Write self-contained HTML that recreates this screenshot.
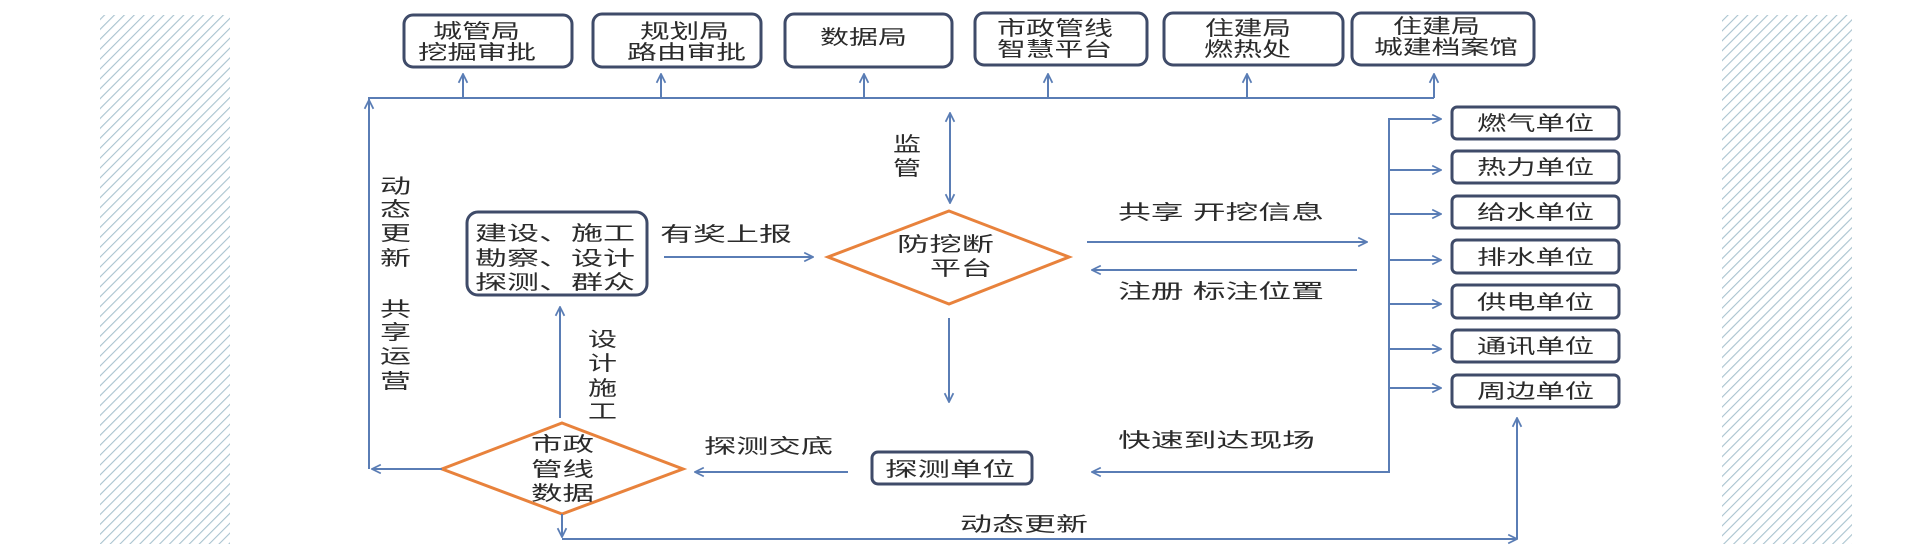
<!DOCTYPE html>
<html><head><meta charset="utf-8"><style>
html,body{margin:0;padding:0;background:#fff;}
svg{display:block;}
text{font-family:"Liberation Sans","Noto Sans CJK SC",sans-serif;font-size:20px;fill:#2b2b2b;}
</style></head><body>
<svg width="1920" height="550" viewBox="0 0 1920 550" xmlns="http://www.w3.org/2000/svg">
<defs>
<pattern id="h" width="7" height="7" patternUnits="userSpaceOnUse" patternTransform="rotate(45)">
<line x1="0" y1="0" x2="0" y2="7" stroke="#a9c3cf" stroke-width="2.2"/>
</pattern>
<marker id="a" viewBox="0 0 10 10" refX="9" refY="5" markerWidth="11" markerHeight="11" markerUnits="userSpaceOnUse" orient="auto">
<path d="M1,1 L9,5 L1,9" fill="none" stroke="#5a7db5" stroke-width="1.6"/>
</marker>
</defs>
<rect x="100" y="15" width="130" height="529" fill="url(#h)"/>
<rect x="1722" y="15" width="130" height="529" fill="url(#h)"/>

<g fill="none" stroke="#3f4b69" stroke-width="3">
<rect x="404" y="15" width="168" height="52" rx="9"/>
<rect x="593" y="14" width="168" height="53" rx="9"/>
<rect x="785" y="14" width="167" height="53" rx="9"/>
<rect x="975" y="13" width="172" height="52" rx="9"/>
<rect x="1164" y="13" width="179" height="52" rx="9"/>
<rect x="1352" y="13" width="182" height="52" rx="9"/>
<rect x="467" y="212" width="180" height="83" rx="11"/>
<rect x="872" y="452" width="160" height="32" rx="6"/>
<rect x="1452" y="107" width="167" height="32" rx="5"/>
<rect x="1452" y="151" width="167" height="32" rx="5"/>
<rect x="1452" y="196" width="167" height="32" rx="5"/>
<rect x="1452" y="240" width="167" height="33" rx="5"/>
<rect x="1452" y="285" width="167" height="33" rx="5"/>
<rect x="1452" y="330" width="167" height="32" rx="5"/>
<rect x="1452" y="375" width="167" height="32" rx="5"/>
</g>
<g fill="none" stroke="#e8823c" stroke-width="3">
<polygon points="949,211 1069,257 949,304 828,257"/>
<polygon points="562,423 683,469 562,514 442,469"/>
</g>

<g fill="none" stroke="#5a7db5" stroke-width="2">
<polyline points="369,469 369,98 1434,98"/>
<line x1="369" y1="130" x2="369" y2="100" marker-end="url(#a)"/>
<line x1="442" y1="469" x2="372" y2="469" marker-end="url(#a)"/>
<line x1="463" y1="98" x2="463" y2="74" marker-end="url(#a)"/>
<line x1="661" y1="98" x2="661" y2="74" marker-end="url(#a)"/>
<line x1="864" y1="98" x2="864" y2="74" marker-end="url(#a)"/>
<line x1="1048" y1="98" x2="1048" y2="74" marker-end="url(#a)"/>
<line x1="1247" y1="98" x2="1247" y2="74" marker-end="url(#a)"/>
<line x1="1434" y1="98" x2="1434" y2="74" marker-end="url(#a)"/>
<line x1="950" y1="150" x2="950" y2="113" marker-end="url(#a)"/>
<line x1="950" y1="150" x2="950" y2="203" marker-end="url(#a)"/>
<line x1="664" y1="257" x2="813" y2="257" marker-end="url(#a)"/>
<line x1="949" y1="318" x2="949" y2="402" marker-end="url(#a)"/>
<line x1="848" y1="472" x2="695" y2="472" marker-end="url(#a)"/>
<line x1="560" y1="418" x2="560" y2="307" marker-end="url(#a)"/>
<line x1="562" y1="514" x2="562" y2="537" marker-end="url(#a)"/>
<line x1="562" y1="539" x2="1517" y2="539" marker-end="url(#a)"/>
<line x1="1517" y1="539" x2="1517" y2="418" marker-end="url(#a)"/>
<line x1="1087" y1="242" x2="1367" y2="242" marker-end="url(#a)"/>
<line x1="1357" y1="270" x2="1092" y2="270" marker-end="url(#a)"/>
<polyline points="1441,119 1389,119 1389,472 1095,472"/>
<line x1="1300" y1="472" x2="1092" y2="472" marker-end="url(#a)"/>
<line x1="1389" y1="119" x2="1441" y2="119" marker-end="url(#a)"/>
<line x1="1389" y1="170" x2="1441" y2="170" marker-end="url(#a)"/>
<line x1="1389" y1="214" x2="1441" y2="214" marker-end="url(#a)"/>
<line x1="1389" y1="260" x2="1441" y2="260" marker-end="url(#a)"/>
<line x1="1389" y1="304" x2="1441" y2="304" marker-end="url(#a)"/>
<line x1="1389" y1="349" x2="1441" y2="349" marker-end="url(#a)"/>
<line x1="1389" y1="388" x2="1441" y2="388" marker-end="url(#a)"/>
</g>

<g lengthAdjust="spacingAndGlyphs">
<text x="433" y="38" textLength="87" lengthAdjust="spacingAndGlyphs">城管局</text>
<text x="418" y="59" textLength="118" lengthAdjust="spacingAndGlyphs">挖掘审批</text>
<text x="640" y="38" textLength="89" lengthAdjust="spacingAndGlyphs">规划局</text>
<text x="627" y="59" textLength="119" lengthAdjust="spacingAndGlyphs">路由审批</text>
<text x="820" y="44" textLength="87" lengthAdjust="spacingAndGlyphs">数据局</text>
<text x="997" y="35" textLength="116" lengthAdjust="spacingAndGlyphs">市政管线</text>
<text x="997" y="56" textLength="115" lengthAdjust="spacingAndGlyphs">智慧平台</text>
<text x="1205" y="35" textLength="86" lengthAdjust="spacingAndGlyphs">住建局</text>
<text x="1204" y="56" textLength="87" lengthAdjust="spacingAndGlyphs">燃热处</text>
<text x="1393" y="33" textLength="87" lengthAdjust="spacingAndGlyphs">住建局</text>
<text x="1374" y="54" textLength="144" lengthAdjust="spacingAndGlyphs">城建档案馆</text>

<text x="475" y="240" textLength="160" lengthAdjust="spacingAndGlyphs">建设、施工</text>
<text x="475" y="265" textLength="160" lengthAdjust="spacingAndGlyphs">勘察、设计</text>
<text x="475" y="289" textLength="160" lengthAdjust="spacingAndGlyphs">探测、群众</text>
<text x="660" y="241" textLength="132" lengthAdjust="spacingAndGlyphs">有奖上报</text>
<text x="897" y="251" textLength="97" lengthAdjust="spacingAndGlyphs">防挖断</text>
<text x="930" y="275" textLength="62" lengthAdjust="spacingAndGlyphs">平台</text>
<text x="531" y="451" textLength="63" lengthAdjust="spacingAndGlyphs">市政</text>
<text x="531" y="476" textLength="63" lengthAdjust="spacingAndGlyphs">管线</text>
<text x="531" y="500" textLength="63" lengthAdjust="spacingAndGlyphs">数据</text>
<text x="885" y="476" textLength="130" lengthAdjust="spacingAndGlyphs">探测单位</text>
<text x="704" y="453" textLength="129" lengthAdjust="spacingAndGlyphs">探测交底</text>
<text x="960" y="531" textLength="128" lengthAdjust="spacingAndGlyphs">动态更新</text>
<text x="1118" y="219" textLength="206" lengthAdjust="spacingAndGlyphs">共享 开挖信息</text>
<text x="1118" y="298" textLength="206" lengthAdjust="spacingAndGlyphs">注册 标注位置</text>
<text x="1118" y="447" textLength="197" lengthAdjust="spacingAndGlyphs">快速到达现场</text>

<text x="893" y="151" textLength="28" lengthAdjust="spacingAndGlyphs">监</text>
<text x="893" y="175" textLength="28" lengthAdjust="spacingAndGlyphs">管</text>

<text x="380" y="193" textLength="31" lengthAdjust="spacingAndGlyphs">动</text>
<text x="380" y="216" textLength="31" lengthAdjust="spacingAndGlyphs">态</text>
<text x="380" y="240" textLength="31" lengthAdjust="spacingAndGlyphs">更</text>
<text x="380" y="265" textLength="31" lengthAdjust="spacingAndGlyphs">新</text>
<text x="380" y="316" textLength="31" lengthAdjust="spacingAndGlyphs">共</text>
<text x="380" y="339" textLength="31" lengthAdjust="spacingAndGlyphs">享</text>
<text x="380" y="363" textLength="31" lengthAdjust="spacingAndGlyphs">运</text>
<text x="380" y="388" textLength="31" lengthAdjust="spacingAndGlyphs">营</text>

<text x="588" y="346" textLength="29" lengthAdjust="spacingAndGlyphs">设</text>
<text x="588" y="370" textLength="29" lengthAdjust="spacingAndGlyphs">计</text>
<text x="588" y="395" textLength="29" lengthAdjust="spacingAndGlyphs">施</text>
<text x="588" y="418" textLength="29" lengthAdjust="spacingAndGlyphs">工</text>

<text x="1477" y="130" textLength="117" lengthAdjust="spacingAndGlyphs">燃气单位</text>
<text x="1477" y="174" textLength="117" lengthAdjust="spacingAndGlyphs">热力单位</text>
<text x="1477" y="219" textLength="117" lengthAdjust="spacingAndGlyphs">给水单位</text>
<text x="1477" y="264" textLength="117" lengthAdjust="spacingAndGlyphs">排水单位</text>
<text x="1477" y="309" textLength="117" lengthAdjust="spacingAndGlyphs">供电单位</text>
<text x="1477" y="353" textLength="117" lengthAdjust="spacingAndGlyphs">通讯单位</text>
<text x="1477" y="398" textLength="117" lengthAdjust="spacingAndGlyphs">周边单位</text>
</g>
</svg>
</body></html>
